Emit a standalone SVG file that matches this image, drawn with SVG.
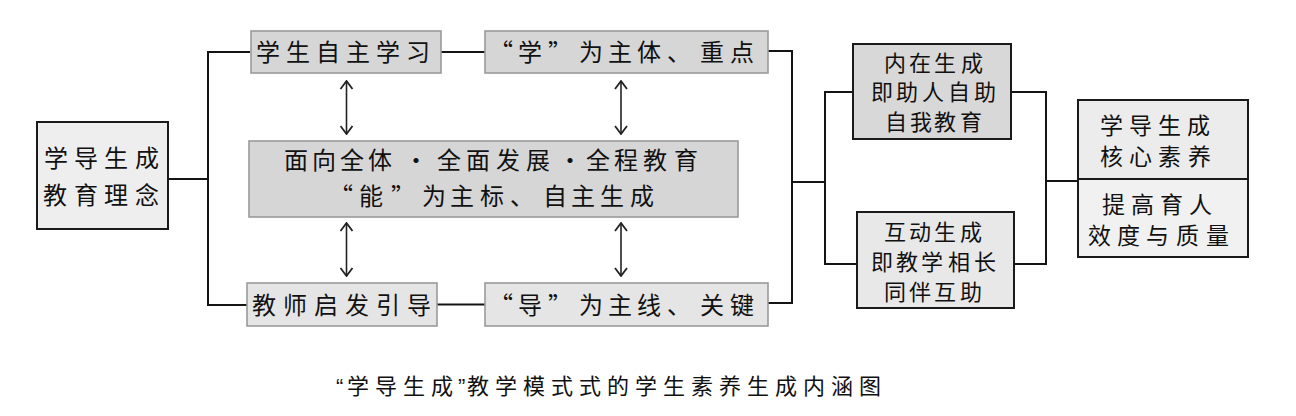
<svg xmlns="http://www.w3.org/2000/svg" width="1296" height="416" viewBox="0 0 1296 416">
<style>
.t{font-family:"Noto Sans CJK SC","Noto Sans CJK TC",sans-serif;fill:#111;}
.f24{font-size:24px;}
.f23{font-size:23px;}
.f22{font-size:22px;}
.cap{font-family:"Liberation Sans","Noto Sans CJK SC",sans-serif;font-size:22px;fill:#111;}
.bx1{fill:#d6d6d6;stroke:#9a9a9a;stroke-width:1.6;}
.bx2{fill:#e5e5e5;stroke:#9a9a9a;stroke-width:1.6;}
.bk{stroke:#1a1a1a;stroke-width:2;}
.ln{fill:none;stroke:#141414;stroke-width:2;}
.ar{fill:none;stroke:#222;stroke-width:1.6;}
</style>
<defs>
<marker id="chev" viewBox="0 0 10 14" refX="9" refY="7" markerWidth="10" markerHeight="14" markerUnits="userSpaceOnUse" orient="auto-start-reverse">
<path d="M1,1 L9,7 L1,13" fill="none" stroke="#222" stroke-width="1.8"/>
</marker>
</defs>
<rect width="1296" height="416" fill="#ffffff"/>
<g id="connectors">
<path class="ln" d="M168,179 H208 M208,52 V305 M207,52 H250 M207,305 H247"/>
<path class="ln" d="M441,52 H485 M437,304.5 H485"/>
<path class="ln" d="M768,51 H792 V303 H768 M792,182 H825 M825,91 V265 M824,92 H853 M824,264 H857"/>
<path class="ln" d="M1011,92 H1046 V264 H1014 M1046,181 H1078"/>
<line class="ar" x1="346.5" y1="81" x2="346.5" y2="134" marker-start="url(#chev)" marker-end="url(#chev)"/>
<line class="ar" x1="346.5" y1="223" x2="346.5" y2="276" marker-start="url(#chev)" marker-end="url(#chev)"/>
<line class="ar" x1="621" y1="81" x2="621" y2="134" marker-start="url(#chev)" marker-end="url(#chev)"/>
<line class="ar" x1="621" y1="223" x2="621" y2="276" marker-start="url(#chev)" marker-end="url(#chev)"/>
</g>
<g id="n-linian">
<rect class="bk" x="37" y="122" width="131" height="107" fill="#eeeeee"/>
<text class="t f24" x="44 74 104 135" y="167">学导生成</text>
<text class="t f24" x="43 74 104 135" y="204">教育理念</text>
</g>
<g id="n-xuesheng">
<rect class="bx1" x="251" y="31" width="190" height="42"/>
<text class="t f24" x="256 286 316 346 376 406" y="61">学生自主学习</text>
</g>
<g id="n-xue">
<rect class="bx1" x="485" y="31" width="283" height="42"/>
<text class="t f24" x="489 518 548 579 608 637 667 700 730" y="61">“学”为主体、重点</text>
</g>
<g id="n-center">
<rect class="bx1" x="249" y="141" width="489" height="76"/>
<text class="t f24" x="284 312 340 368 404 437 466 496 526 558 586 614 643 674" y="169">面向全体•全面发展•全程教育</text>
<text class="t f24" x="329 359 391 422 450 480 510 543 571 600 630" y="205">“能”为主标、自主生成</text>
</g>
<g id="n-jiaoshi">
<rect class="bx2" x="247" y="283" width="190" height="43"/>
<text class="t f24" x="252 283 314 345 376 407" y="313.5">教师启发引导</text>
</g>
<g id="n-dao">
<rect class="bx2" x="485" y="283" width="283" height="43"/>
<text class="t f24" x="489 518 548 579 608 637 667 700 730" y="313.5">“导”为主线、关键</text>
</g>
<g id="n-neizai">
<rect class="bk" x="853" y="44" width="158" height="95" fill="#d8d8d8"/>
<text class="t f22" x="884 909 934 961" y="71.4">内在生成</text>
<text class="t f22" x="871 896 922 948 974" y="100.4">即助人自助</text>
<text class="t f22" x="885 910 934 960" y="130.4">自我教育</text>
</g>
<g id="n-hudong">
<rect class="bk" x="857" y="212" width="157" height="96" fill="#e8e8e8"/>
<text class="t f22" x="884 909 934 960" y="240.4">互动生成</text>
<text class="t f22" x="871 896 921 948 974" y="270.4">即教学相长</text>
<text class="t f22" x="884 909 934 960" y="300.4">同伴互助</text>
</g>
<g id="n-result">
<rect x="1078" y="100" width="170" height="79" fill="#ececec"/>
<rect x="1078" y="179" width="170" height="78" fill="#f1f1f1"/>
<rect class="bk" x="1078" y="100" width="170" height="157" fill="none"/>
<line class="bk" x1="1078" y1="179" x2="1248" y2="179"/>
<text class="t f23" x="1100 1129 1158 1187" y="133.5">学导生成</text>
<text class="t f23" x="1100 1129 1158 1188" y="164.5">核心素养</text>
<text class="t f23" x="1102 1131 1160 1189" y="212.5">提高育人</text>
<text class="t f23" x="1088 1117 1146 1176 1206" y="244">效度与质量</text>
</g>
<text class="cap" x="336 347 375 403 431 458 467 495 523 551 579 607 635 663 691 719 747 775 803 831 859" y="394">“学导生成”教学模式式的学生素养生成内涵图</text>
</svg>
